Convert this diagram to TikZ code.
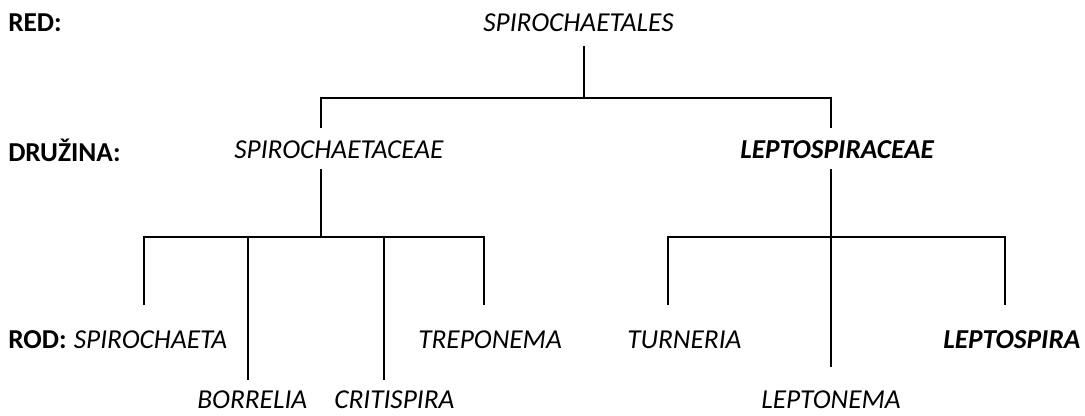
\documentclass[tikz,border=0pt]{standalone}
\usepackage{fontspec}
\setmainfont{Carlito}
\usetikzlibrary{positioning}
\newcommand{\treesize}{\fontsize{20.5}{24}\selectfont}
\tikzset{
  rank/.style={anchor=west,inner sep=0pt,font=\treesize\bfseries},
  taxon/.style={anchor=west,inner sep=0pt,font=\treesize\itshape},
  keytaxon/.style={anchor=west,inner sep=0pt,font=\treesize\bfseries\itshape},
  branch/.style={draw=black,line width=1.2pt},
}

\begin{document}
\begin{tikzpicture}[x=0.75pt,y=-0.75pt]
\useasboundingbox (0,0) rectangle (1085,415);
% rank labels
\node[rank] (red) at (8,23) {RED:};
\node[rank] (druzina) at (8,150) {DRUŽINA:};
\node[rank] (rod) at (8,340) {ROD:};
% taxa
\node[taxon] (order) at (483,23) {SPIROCHAETALES};
\node[taxon] (fam1) at (234,150) {SPIROCHAETACEAE};
\node[keytaxon] (fam2) at (740,150) {LEPTOSPIRACEAE};
\node[taxon,right=5pt of rod] (g1) {SPIROCHAETA};
\node[taxon] (g2) at (197,400) {BORRELIA};
\node[taxon] (g3) at (334,400) {CRITISPIRA};
\node[taxon] (g4) at (418,340) {TREPONEMA};
\node[taxon] (g5) at (627,340) {TURNERIA};
\node[taxon] (g6) at (761,400) {LEPTONEMA};
\node[keytaxon] (g7) at (943,340) {LEPTOSPIRA};
% branch points
\coordinate (o1) at (584,46);
\coordinate (o2) at (584,98);
\coordinate (f1) at (321,128);
\coordinate (f2) at (831,128);
\coordinate (s1) at (321,169);
\coordinate (s2) at (321,237);
\coordinate (l1) at (831,169);
\coordinate (l2) at (831,237);
\coordinate (e1) at (144,305);
\coordinate (e2) at (248,380);
\coordinate (e3) at (384,380);
\coordinate (e4) at (484,305);
\coordinate (e5) at (668,305);
\coordinate (e6) at (831,367);
\coordinate (e7) at (1005,305);
% order -> families
\draw[branch] (o1) -- (o2);
\draw[branch] (f1) |- (o2) -| (f2);
% Spirochaetaceae
\draw[branch] (s1) -- (s2);
\draw[branch] (e1) |- (s2) -| (e4);
\draw[branch] (e2 |- s2) -- (e2);
\draw[branch] (e3 |- s2) -- (e3);
% Leptospiraceae
\draw[branch] (l1) -- (l2);
\draw[branch] (e5) |- (l2) -| (e7);
\draw[branch] (l2) -- (e6);
\end{tikzpicture}
\end{document}
